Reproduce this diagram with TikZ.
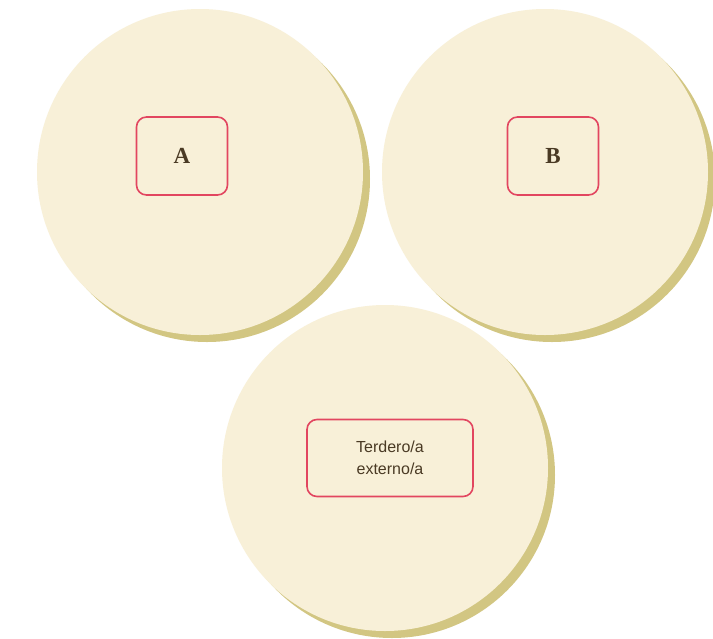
\documentclass[tikz,border=0pt]{standalone}
\usepackage{fontspec}
\setmainfont{Liberation Serif}
\newfontfamily\labelsans{Liberation Sans}
\definecolor{discfill}{HTML}{F8F0D8}
\definecolor{discshadow}{HTML}{D2C682}
\definecolor{boxline}{HTML}{E24660}
\definecolor{txt}{HTML}{4A3A24}
\begin{document}
\begin{tikzpicture}[x=1pt,y=-1pt,
  disc/.style={circle, fill=discfill, minimum size=326pt, inner sep=0pt},
  discshade/.style={circle, fill=discshadow, minimum size=326pt, inner sep=0pt},
  tagbox/.style={draw=boxline, line width=1.6pt, rounded corners=10pt, fill=discfill, text=txt, align=center},
  letter/.style={tagbox, minimum width=91pt, minimum height=78pt, font=\fontsize{23}{25}\selectfont\bfseries},
  wordbox/.style={tagbox, minimum width=166pt, minimum height=77pt, font=\labelsans\fontsize{16}{22}\selectfont}]
\fill[white] (0,0) rectangle (713,638);
\useasboundingbox (0,0) rectangle (713,638);
% shadows
\node[discshade] (sa) at (207,179) {};
\node[discshade] (sb) at (552,179) {};
\node[discshade] (sc) at (392,475) {};
% discs
\node[disc] (da) at (200,172) {};
\node[disc] (db) at (545,172) {};
\node[disc] (dc) at (385,468) {};
% labels
\node[letter] (a) at (182,156) {A};
\node[letter] (b) at (553,156) {B};
\node[wordbox] (c) at (390,458) {Terdero/a\\externo/a};
\end{tikzpicture}
\end{document}
